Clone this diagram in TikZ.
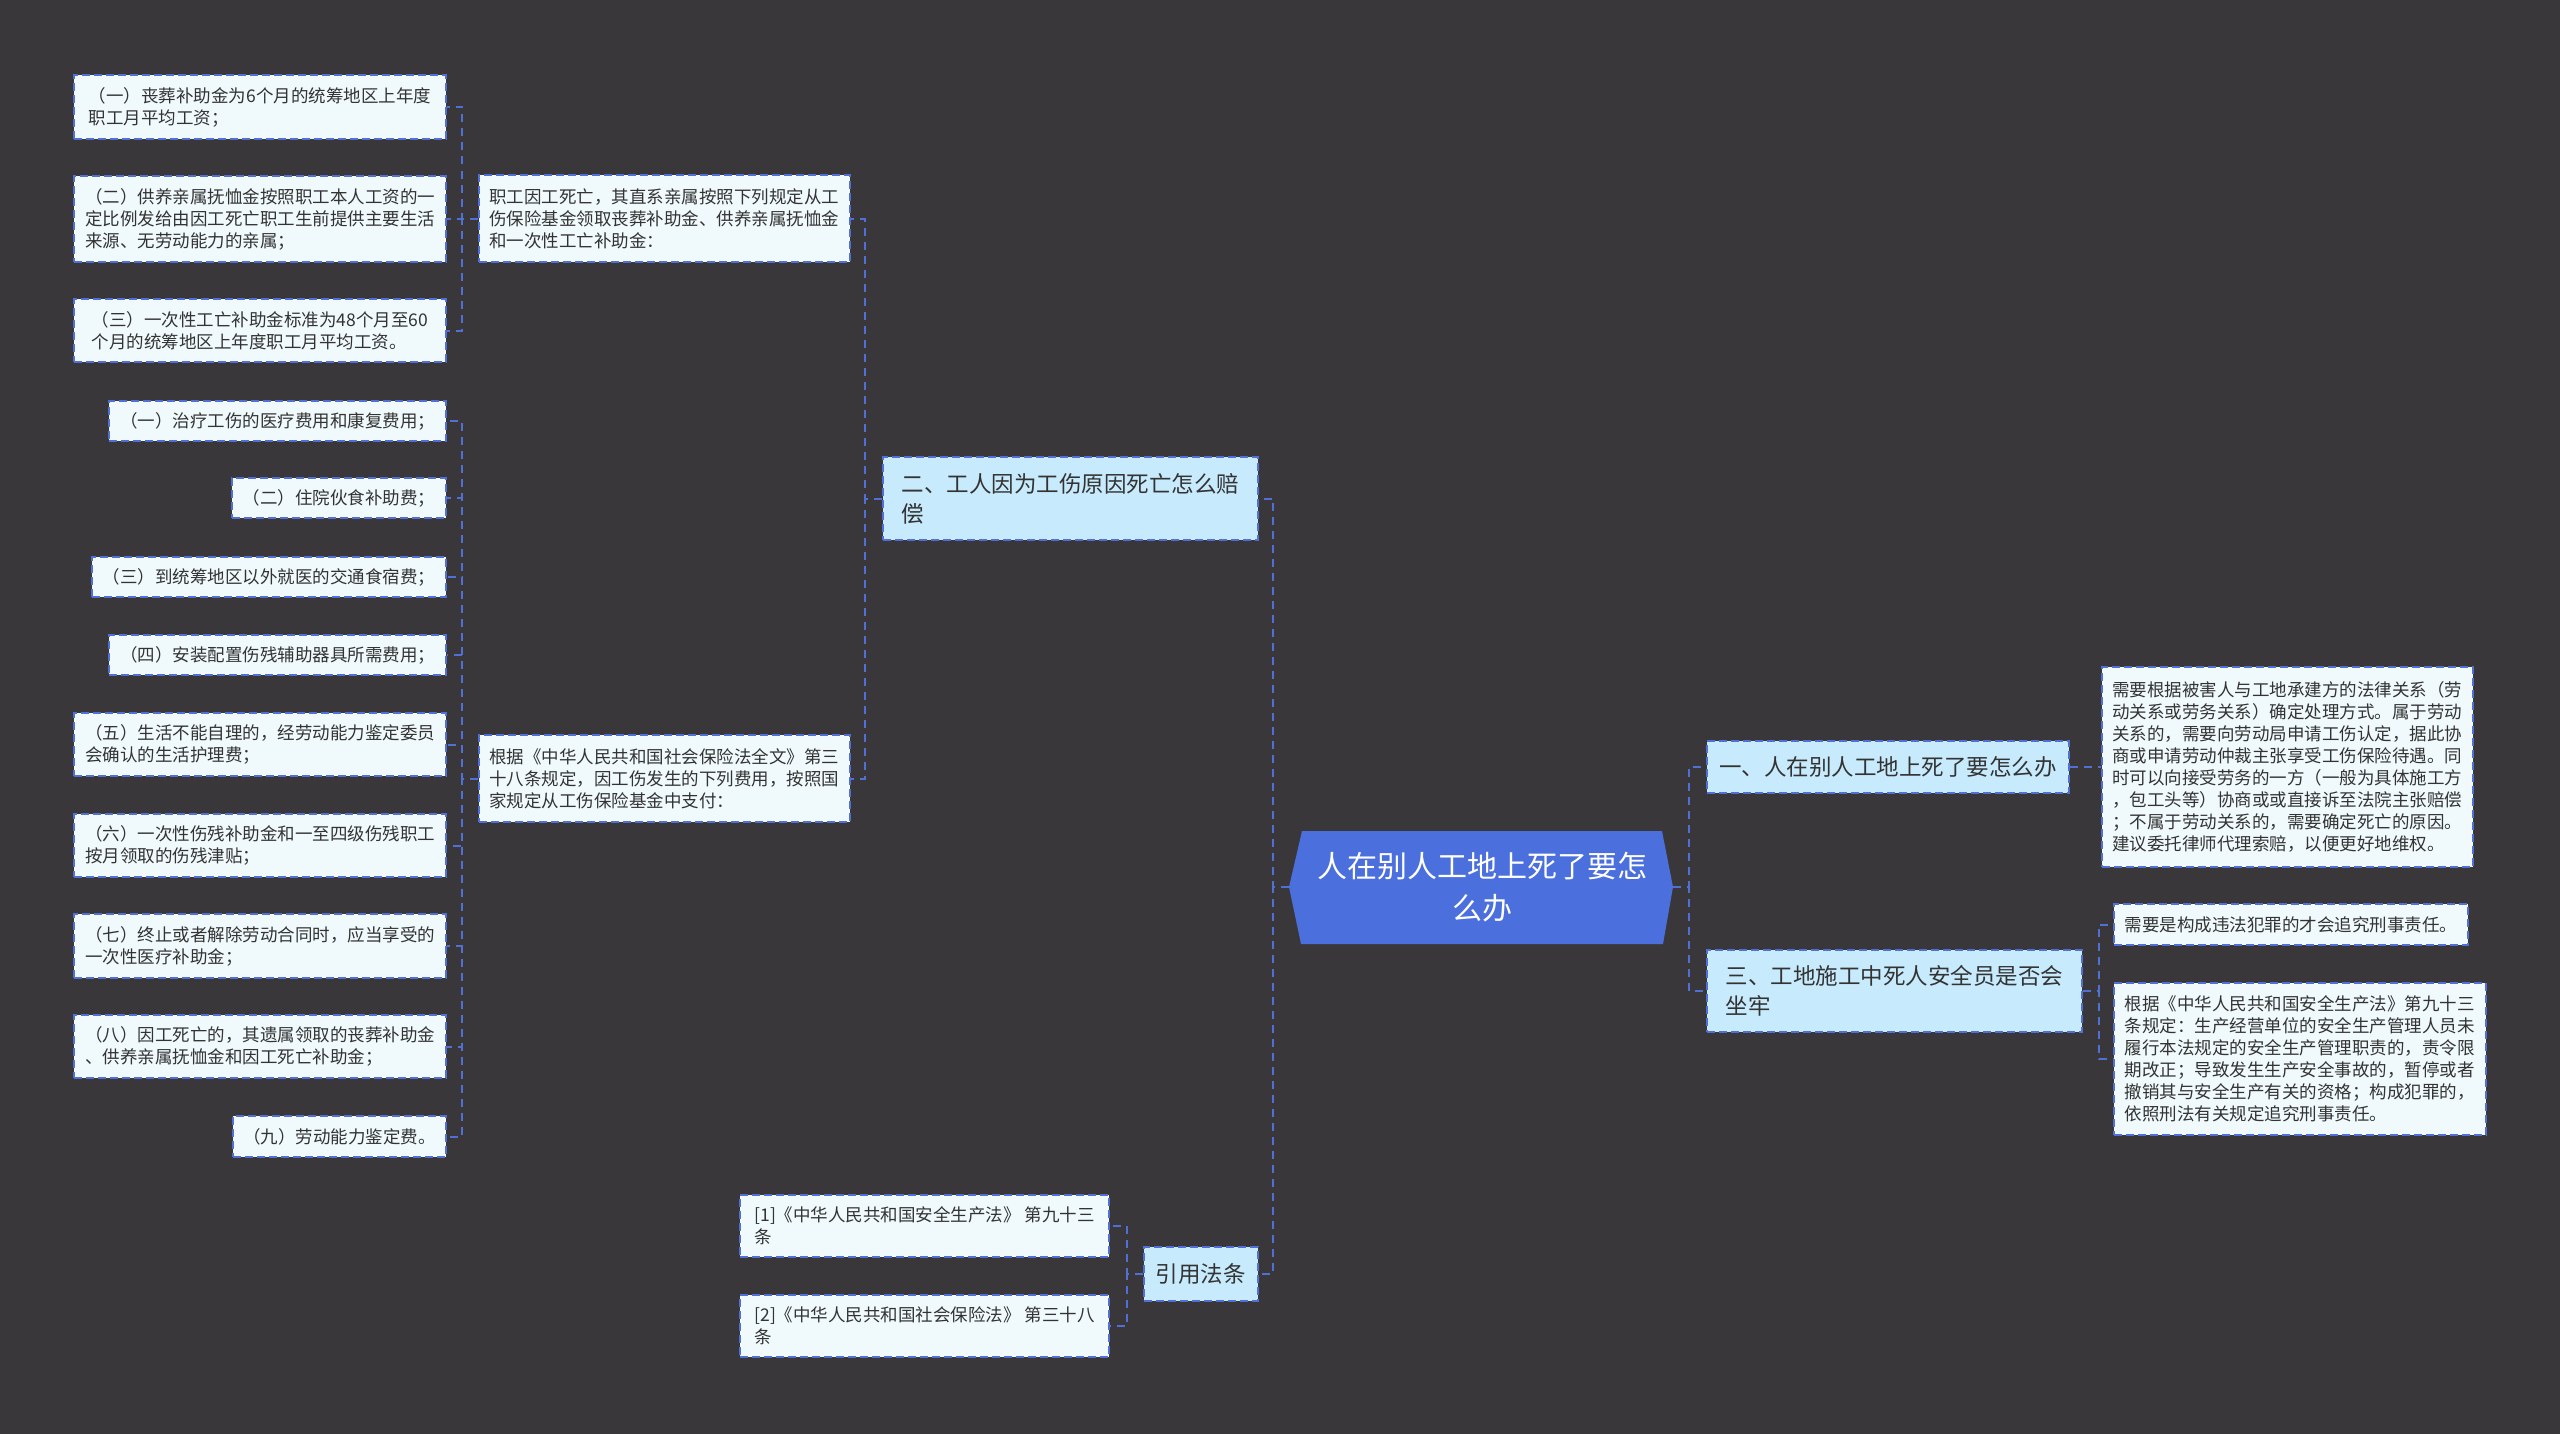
\documentclass[tikz,border=0pt]{standalone}
\usepackage{fontspec}
\setmainfont{Noto Sans CJK SC}
\definecolor{bgcol}{RGB}{57,55,57}
\definecolor{hexblue}{RGB}{75,111,221}
\definecolor{lineblue}{RGB}{80,112,214}
\definecolor{leaffill}{RGB}{240,250,253}
\definecolor{lvlfill}{RGB}{199,235,252}
\definecolor{txtcol}{RGB}{51,51,51}
\begin{document}
\begin{tikzpicture}[x=0.5pt,y=-0.5pt,
  leaf/.style={draw=lineblue, fill=leaffill, text=txtcol, dash pattern=on 4pt off 2pt, line width=0.9pt,
    font=\fontsize{8.75pt}{11pt}\selectfont, inner xsep=5pt, inner ysep=2pt, align=left},
  lvl/.style={draw=lineblue, fill=lvlfill, text=txtcol, dash pattern=on 4pt off 2pt, line width=0.9pt,
    font=\fontsize{11.25pt}{15pt}\selectfont, inner xsep=5.5pt, inner ysep=2pt, align=left},
  conn/.style={draw=lineblue, dash pattern=on 4pt off 3pt, line width=1pt}]
\useasboundingbox (0,0) rectangle (2560,1434);
\fill[bgcol] (0,0) rectangle (2560,1434);

% root hexagon
\fill[hexblue] (1302,831) -- (1662,831) -- (1673,887) -- (1663,944) -- (1301,944) -- (1289,887) -- cycle;
\node[text=white, font=\fontsize{15pt}{21pt}\selectfont, align=center] (root) at (1482,887) {人在别人工地上死了要怎\\么办};
\coordinate (rootL) at (1289,887);
\coordinate (rootR) at (1673,887);

% level 1
\node[lvl, anchor=west, minimum width=187.5pt, minimum height=41.5pt] (n2) at (882,498.5) {二、工人因为工伤原因死亡怎么赔\\偿};
\node[lvl, anchor=west, minimum width=57pt, minimum height=27pt, align=center] (n4) at (1143,1274) {引用法条};
\node[lvl, anchor=west, minimum width=181pt, minimum height=26pt] (n1) at (1706,767) {一、人在别人工地上死了要怎么办};
\node[lvl, anchor=west, minimum width=187.5pt, minimum height=41pt] (n3) at (1706,991) {三、工地施工中死人安全员是否会\\坐牢};

% mid
\node[leaf, anchor=west, minimum width=185.5pt, minimum height=43.5pt] (m1) at (478,218.5) {职工因工死亡，其直系亲属按照下列规定从工\\伤保险基金领取丧葬补助金、供养亲属抚恤金\\和一次性工亡补助金：};
\node[leaf, anchor=west, minimum width=185.5pt, minimum height=43.5pt] (m2) at (478,778.5) {根据《中华人民共和国社会保险法全文》第三\\十八条规定，因工伤发生的下列费用，按照国\\家规定从工伤保险基金中支付：};

% left leaves
\node[leaf, anchor=east, minimum width=186pt, minimum height=32pt] (a1) at (447,107) {（一）丧葬补助金为6个月的统筹地区上年度\\职工月平均工资；};
\node[leaf, anchor=east, minimum width=186pt, minimum height=43pt] (a2) at (447,219) {（二）供养亲属抚恤金按照职工本人工资的一\\定比例发给由因工死亡职工生前提供主要生活\\来源、无劳动能力的亲属；};
\node[leaf, anchor=east, minimum width=186pt, minimum height=31.5pt] (a3) at (447,330.5) {（三）一次性工亡补助金标准为48个月至60\\个月的统筹地区上年度职工月平均工资。};

\node[leaf, anchor=east, minimum width=168.5pt, minimum height=20pt] (b1) at (447,421) {（一）治疗工伤的医疗费用和康复费用；};
\node[leaf, anchor=east, minimum width=107pt, minimum height=20pt] (b2) at (447,498) {（二）住院伙食补助费；};
\node[leaf, anchor=east, minimum width=177pt, minimum height=20pt] (b3) at (447,577) {（三）到统筹地区以外就医的交通食宿费；};
\node[leaf, anchor=east, minimum width=168.5pt, minimum height=20pt] (b4) at (447,655) {（四）安装配置伤残辅助器具所需费用；};
\node[leaf, anchor=east, minimum width=186pt, minimum height=31.5pt] (b5) at (447,744.5) {（五）生活不能自理的，经劳动能力鉴定委员\\会确认的生活护理费；};
\node[leaf, anchor=east, minimum width=186pt, minimum height=31.5pt] (b6) at (447,845.5) {（六）一次性伤残补助金和一至四级伤残职工\\按月领取的伤残津贴；};
\node[leaf, anchor=east, minimum width=186pt, minimum height=32pt] (b7) at (447,946) {（七）终止或者解除劳动合同时，应当享受的\\一次性医疗补助金；};
\node[leaf, anchor=east, minimum width=186pt, minimum height=31.5pt] (b8) at (447,1046.5) {（八）因工死亡的，其遗属领取的丧葬补助金\\、供养亲属抚恤金和因工死亡补助金；};
\node[leaf, anchor=east, minimum width=106.5pt, minimum height=20.5pt] (b9) at (447,1136.5) {（九）劳动能力鉴定费。};

% citations
\node[leaf, anchor=east, minimum width=184.5pt, minimum height=31pt] (c1) at (1110,1226) {[1]《中华人民共和国安全生产法》 第九十三\\条};
\node[leaf, anchor=east, minimum width=184.5pt, minimum height=31pt] (c2) at (1110,1326) {[2]《中华人民共和国社会保险法》 第三十八\\条};

% right leaves
\node[leaf, anchor=west, minimum width=185.5pt, minimum height=100pt] (r1) at (2101,767) {需要根据被害人与工地承建方的法律关系（劳\\动关系或劳务关系）确定处理方式。属于劳动\\关系的，需要向劳动局申请工伤认定，据此协\\商或申请劳动仲裁主张享受工伤保险待遇。同\\时可以向接受劳务的一方（一般为具体施工方\\，包工头等）协商或或直接诉至法院主张赔偿\\；不属于劳动关系的，需要确定死亡的原因。\\建议委托律师代理索赔，以便更好地维权。};
\node[leaf, anchor=west, minimum width=177pt, minimum height=20.5pt] (r2) at (2113,924.5) {需要是构成违法犯罪的才会追究刑事责任。};
\node[leaf, anchor=west, minimum width=186pt, minimum height=76pt] (r3) at (2113,1059) {根据《中华人民共和国安全生产法》第九十三\\条规定：生产经营单位的安全生产管理人员未\\履行本法规定的安全生产管理职责的，责令限\\期改正；导致发生生产安全事故的，暂停或者\\撤销其与安全生产有关的资格；构成犯罪的，\\依照刑法有关规定追究刑事责任。};

% connectors
\foreach \c in {a1,a2,a3} \draw[conn] (m1.west) -- ++(-16,0) |- (\c.east);
\foreach \c in {b1,b2,b3,b4,b5,b6,b7,b8,b9} \draw[conn] (m2.west) -- ++(-16,0) |- (\c.east);
\foreach \c in {m1,m2} \draw[conn] (n2.west) -- ++(-17,0) |- (\c.east);
\foreach \c in {n2,n4} \draw[conn] (rootL) -- ++(-16,0) |- (\c.east);
\foreach \c in {n1,n3} \draw[conn] (rootR) -- ++(16,0) |- (\c.west);
\draw[conn] (n1.east) -- (r1.west);
\foreach \c in {r2,r3} \draw[conn] (n3.east) -- ++(16,0) |- (\c.west);
\foreach \c in {c1,c2} \draw[conn] (n4.west) -- ++(-16,0) |- (\c.east);
\end{tikzpicture}
\end{document}
